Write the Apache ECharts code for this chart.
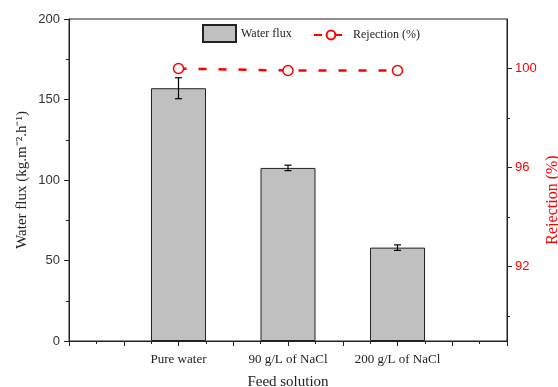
<!DOCTYPE html>
<html>
<head>
<meta charset="utf-8">
<script src="https://cdn.jsdelivr.net/npm/echarts@6/dist/echarts.min.js"></script>
<style>html,body{margin:0;padding:0;background:#fff;}#c{width:558px;height:387px;}</style>
</head>
<body>
<div id="c"></div>
<script>
var categories = ['', 'Pure water', '90 g/L of NaCl', '200 g/L of NaCl', ''];
var waterFlux = ['-', 157, 107.5, 58, '-'];
var waterFluxErr = [null, 6.5, 1.7, 1.7, null];
var rejection = ['-', 100.0, 99.92, 99.92, '-'];
var leftTicks = [0, 50, 100, 150, 200];
var rightTicks = [92, 96, 100];
var rightMinorTicks = [90, 94, 98];

var serif = 'Liberation Serif';
var sans = 'Liberation Sans';

var errData = [];
for (var i = 0; i < categories.length; i++) {
  if (waterFluxErr[i] != null) errData.push([i, waterFlux[i] - waterFluxErr[i], waterFlux[i] + waterFluxErr[i]]);
}

var chart = echarts.init(document.getElementById('c'), null, {renderer: 'canvas'});
chart.setOption({
  animation: false,
  backgroundColor: '#fff',
  grid: {left: 69, right: 51, top: 19, bottom: 46, containLabel: false, outerBoundsMode: 'none',
    show: true, borderColor: '#222', borderWidth: 1, backgroundColor: 'transparent'},
  legend: [{
    top: 19, left: 197, itemWidth: 33, itemHeight: 17,
    textStyle: {fontFamily: serif, fontSize: 12, color: '#222'},
    data: [{name: 'Water flux', icon: 'rect'}]
  }, {
    top: 24, left: 308, itemWidth: 34, itemHeight: 11, itemGap: 6,
    textStyle: {fontFamily: serif, fontSize: 12, color: '#222'},
    data: [{name: 'Rejection (%)'}]
  }],
  xAxis: [{
    type: 'category', data: categories, boundaryGap: false,
    axisLine: {show: false}, axisTick: {show: false}, splitLine: {show: false},
    axisLabel: {fontFamily: serif, fontSize: 13, color: '#222', margin: 12, interval: 0},
    name: 'Feed solution', nameLocation: 'middle', nameGap: 34,
    nameTextStyle: {fontFamily: serif, fontSize: 15, color: '#222'}
  }, {
    type: 'value', min: 0, max: 4, interval: 0.5, position: 'bottom',
    axisLine: {show: true, lineStyle: {color: '#222', width: 1}},
    axisTick: {show: true, length: 5, lineStyle: {color: '#222'}},
    minorTick: {show: true, splitNumber: 2, length: 3, lineStyle: {color: '#222'}},
    axisLabel: {show: false}, splitLine: {show: false}
  }],
  yAxis: [{
    type: 'value', min: 0, max: 200, interval: 50, position: 'left',
    axisLine: {show: true, lineStyle: {color: '#222'}},
    axisTick: {show: true, length: 5, lineStyle: {color: '#222'}},
    minorTick: {show: true, splitNumber: 2, length: 3, lineStyle: {color: '#222'}},
    splitLine: {show: false},
    axisLabel: {fontFamily: sans, fontSize: 13, color: '#333', margin: 9},
    name: 'Water flux (kg.m\u207B\u00B2.h\u207B\u00B9)', nameLocation: 'middle', nameGap: 39, nameRotate: 90,
    nameMoveOverlap: false,
    nameTextStyle: {fontFamily: serif, fontSize: 15, color: '#222'}
  }, {
    type: 'value', min: 89, max: 102, position: 'right',
    axisLine: {show: true, lineStyle: {color: '#222'}},
    axisTick: {show: true, length: 5, customValues: rightTicks, lineStyle: {color: '#222'}},
    splitLine: {show: false},
    axisLabel: {fontFamily: sans, fontSize: 13, color: '#f00', margin: 8, customValues: rightTicks},
    name: 'Rejection (%)', nameLocation: 'middle', nameGap: 38, nameRotate: 90,
    nameMoveOverlap: false,
    nameTextStyle: {fontFamily: serif, fontSize: 16, color: '#f00', padding: [0, 40, 0, 0]}
  }, {
    type: 'value', min: 89, max: 102, position: 'right',
    axisLine: {show: false},
    axisTick: {show: true, length: 3, customValues: rightMinorTicks, lineStyle: {color: '#222'}},
    splitLine: {show: false},
    axisLabel: {show: false, customValues: rightMinorTicks}
  }],
  series: [{
    name: 'Water flux', type: 'bar', xAxisIndex: 0, yAxisIndex: 0,
    data: waterFlux, barWidth: 55,
    itemStyle: {color: '#c0c0c0', borderColor: '#222', borderWidth: 1}
  }, {
    name: 'err', type: 'custom', xAxisIndex: 0, yAxisIndex: 0, z: 5,
    data: errData,
    renderItem: function (params, api) {
      var x = api.value(0);
      var lo = api.coord([x, api.value(1)]);
      var hi = api.coord([x, api.value(2)]);
      var hw = 3.5;
      var st = {stroke: '#000', lineWidth: 1.2};
      return {type: 'group', children: [
        {type: 'line', shape: {x1: lo[0], y1: lo[1], x2: hi[0], y2: hi[1]}, style: st},
        {type: 'line', shape: {x1: lo[0] - hw, y1: lo[1], x2: lo[0] + hw, y2: lo[1]}, style: st},
        {type: 'line', shape: {x1: hi[0] - hw, y1: hi[1], x2: hi[0] + hw, y2: hi[1]}, style: st}
      ]};
    }
  }, {
    name: 'Rejection (%)', type: 'line', xAxisIndex: 0, yAxisIndex: 1, z: 6,
    data: rejection, connectNulls: false,
    symbol: 'circle', symbolSize: 10, showAllSymbol: true,
    lineStyle: {color: '#f00', width: 2.5, type: [8, 12]},
    itemStyle: {color: '#fff', borderColor: '#f00', borderWidth: 1.5}
  }]
});
</script>
</body>
</html>
